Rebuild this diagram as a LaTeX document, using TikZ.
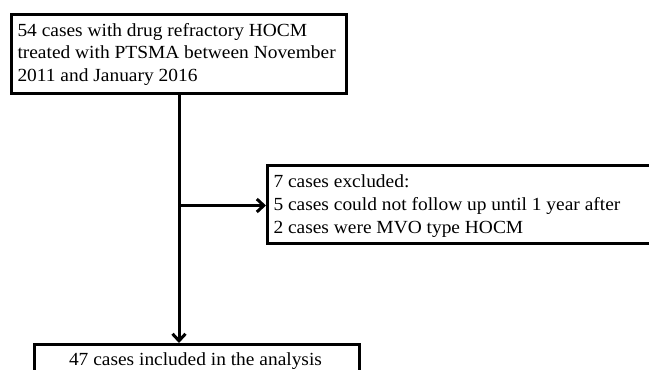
\documentclass[tikz,border=0pt]{standalone}
\usepackage{fontspec}
\setmainfont{Liberation Serif}[FakeStretch=1.05]
\usetikzlibrary{arrows.meta}
\begin{document}
\begin{tikzpicture}[x=1pt,y=-1pt,
  box/.style={draw=black, line width=3pt, fill=white, rectangle, inner sep=0pt, anchor=north west},
  txt/.style={inner sep=0pt, anchor=north west, align=left},
  conn/.style={draw=black, line width=3pt},
  arr/.style={conn, -{Straight Barb[length=7pt,width=13pt,line width=3pt]}}]
\useasboundingbox (0,0) rectangle (649,370);
\fill[white] (0,0) rectangle (649,370);
% boxes
\node[box, minimum width=335pt, minimum height=79pt] (b1) at (10,13) {};
\node[box, minimum width=386pt, minimum height=78pt] (b2) at (266,164) {};
\node[box, minimum width=325pt, minimum height=34pt] (b3) at (33,343) {};
% texts
\node[txt, font=\fontsize{18.5}{22.4}\selectfont] (t1) at (17.3,23.0)
  {54 cases with drug refractory HOCM\\treated with PTSMA between November\\2011 and January 2016};
\node[txt, font=\fontsize{18.5}{23.3}\selectfont] (t2) at (273.3,174.3)
  {7 cases excluded:\\5 cases could not follow up until 1 year after\\2 cases were MVO type HOCM};
\node[inner sep=0pt, anchor=north, font=\fontsize{18.5}{22}\selectfont] (t3) at (195.5,352.3)
  {47 cases included in the analysis};
% connectors
\coordinate (j) at (b1.south |- 0,205.5);
\draw[arr] (b1.south) -- (b1.south |- b3.north);
\draw[arr] (j) -- (b2.west |- j);
\end{tikzpicture}
\end{document}
